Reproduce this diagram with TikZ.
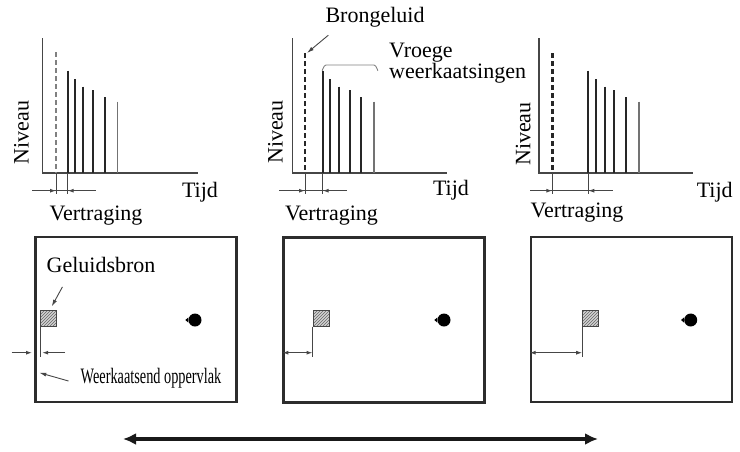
\documentclass[tikz,border=0pt]{standalone}
\usepackage{fontspec}
\usepackage{graphicx}
\setmainfont{Liberation Serif}
\usetikzlibrary{arrows.meta, positioning, patterns}
\definecolor{axisgray}{RGB}{70,70,70}
\definecolor{wallgray}{RGB}{45,45,45}

\begin{document}
\begin{tikzpicture}[x=1pt, y=-1pt,
    font=\fontsize{22}{26}\selectfont,
    axis/.style={axisgray, line width=1.3pt},
    bar/.style={black!85, line width=2.3pt},
    lastbar/.style={black!55, line width=1.5pt},
    direct/.style={gray, line width=1.2pt, dash pattern=on 5pt off 3pt},
    directbold/.style={black!85, line width=2.4pt, dash pattern=on 5pt off 3pt},
    tick/.style={axisgray, line width=1pt},
    dim/.style={axisgray, line width=1pt},
    dimarr/.style={-{Latex[length=6pt,width=4pt]}, axisgray, line width=1pt},
    dimboth/.style={{Latex[length=6pt,width=4pt]}-{Latex[length=6pt,width=4pt]},
                    axisgray, line width=1pt},
    room/.style={rectangle, draw=wallgray, line width=2.6pt,
                 minimum width=201pt, minimum height=165pt},
    src/.style={rectangle, draw=axisgray, line width=1pt,
                preaction={fill=gray!35}, pattern=north east lines,
                pattern color=black!60, minimum size=16pt, inner sep=0pt},
    listener/.style={circle, fill=black, minimum size=13pt, inner sep=0pt},
    lbl/.style={inner sep=0pt},
    pointer/.style={-{Latex[length=7pt,width=4pt]}, axisgray, line width=0.9pt},
    big/.style={{Latex[length=13pt,width=12pt]}-{Latex[length=13pt,width=12pt]},
                black!90, line width=3.2pt}
]
    \useasboundingbox (0,0) rectangle (740,451);

    % graph 1
    \draw[axis] (42.7,38) -- (42.7,173) -- (198,173);
    \draw[direct] (56,52) -- (56,173);
    \foreach \x/\h in {67.7/70.7, 75/79, 83.3/86.7, 92.7/90, 105/97.3}
        \draw[bar] (\x,\h) -- (\x,173);
    \draw[lastbar] (117.3,101.7) -- (117.3,173);
    \draw[tick] (56,173) -- (56,194);
    \draw[tick] (67.7,173) -- (67.7,194);
    \draw[dim] (32,190.7) -- (96,190.7);
    \draw[dimarr] (43,190.7) -- (56,190.7);
    \draw[dimarr] (81,190.7) -- (67.7,190.7);
    \node[lbl, rotate=90] (niv1) at (21.5,132.5) {Niveau};
    \node[lbl] (tijd1) at (200,192) {Tijd};
    \node[lbl] (vert1) at (96,216) {Vertraging};

    % graph 2
    \draw[axis] (292.7,38) -- (292.7,173) -- (446.7,173);
    \draw[directbold] (305,53) -- (305,173);
    \foreach \x/\h in {322.7/70.7, 330/79, 339.3/86.7, 350/90, 360.7/97.3}
        \draw[bar] (\x,\h) -- (\x,173);
    \draw[lastbar] (374,101.7) -- (374,173);
    \draw[tick] (305,173) -- (305,194);
    \draw[tick] (322.7,173) -- (322.7,194);
    \draw[dim] (279,190.7) -- (347,190.7);
    \draw[dimarr] (292,190.7) -- (305,190.7);
    \draw[dimarr] (336,190.7) -- (322.7,190.7);
    \node[lbl, rotate=90] (niv2) at (275.5,132) {Niveau};
    \node[lbl] (tijd2) at (451,190) {Tijd};
    \node[lbl] (vert2) at (331.5,215.5) {Vertraging};
    \node[lbl] (bron) at (375,17) {Brongeluid};
    \coordinate (brontop) at (307,53);
    \draw[pointer] ([shift={(3,8)}]bron.south west) -- (brontop);
    \draw[gray, line width=0.9pt] (322,70) to[out=-90,in=180] (326,65)
        -- (374,65) to[out=0,in=-90] (378,70);
    \node[lbl, align=left, anchor=north west,
          font=\fontsize{22}{21}\selectfont] (vroeg) at (389,43)
        {Vroege\\weerkaatsingen};

    % graph 3
    \draw[axis] (539,38) -- (539,173) -- (693,173);
    \draw[directbold] (552.3,53) -- (552.3,173);
    \foreach \x/\h in {588.3/70.7, 596/79, 605/86.7, 614/90, 626/97.3}
        \draw[bar] (\x,\h) -- (\x,173);
    \draw[lastbar] (639,101.7) -- (639,173);
    \draw[tick] (552.3,173) -- (552.3,194);
    \draw[tick] (588.3,173) -- (588.3,194);
    \draw[dim] (530,190.7) -- (613,190.7);
    \draw[dimarr] (539,190.7) -- (552.3,190.7);
    \draw[dimarr] (602,190.7) -- (588.3,190.7);
    \node[lbl, rotate=90] (niv3) at (523.3,134) {Niveau};
    \node[lbl] (tijd3) at (714.7,192) {Tijd};
    \node[lbl] (vert3) at (577,213) {Vertraging};

    % rooms
    \node[room] (room1) at (135.8,319.3) {};
    \node[room] (room2) at (384.2,319.7) {};
    \node[room] (room3) at (631.5,319.5) {};
    \node[src] (src1) at (48.7,318) {};
    \node[src] (src2) at (321,318) {};
    \node[src] (src3) at (590.7,318) {};
    \node[listener] (lis1) at (195,320) {};
    \node[listener] (lis2) at (444,320) {};
    \node[listener] (lis3) at (690.7,320) {};
    \foreach \i in {1,2,3}
        \fill ([xshift=-3pt]lis\i.west) -- ([yshift=2.5pt]lis\i.west)
            -- ([yshift=-2.5pt]lis\i.west) -- cycle;

    \coordinate (d1) at (src1.south west |- 0,352.7);
    \coordinate (d2) at (src2.south west |- 0,352.7);
    \coordinate (d3) at (src3.south west |- 0,352.7);
    \foreach \i in {1,2,3}
        \draw[tick] (src\i.south west) -- ([yshift=-4pt]d\i);
    \draw[dimarr] (11.7,352.7) -- ([xshift=-2pt]room1.west |- d1);
    \draw[dimarr] ([xshift=25pt]d1) -- ([xshift=2pt]d1);
    \draw[dimboth] (room2.west |- d2) -- (d2);
    \draw[dimboth] (room3.west |- d3) -- (d3);

    \node[lbl] (geluid) at (101,265) {Geluidsbron};
    \draw[pointer] ([shift={(16,14)}]geluid.south west) -- ([shift={(3,-3)}]src1.north);
    \node[lbl] (weer) at (151,378)
        {\scalebox{0.65}[1]{Weerkaatsend oppervlak}};
    \coordinate (wallpt) at (39.3,372.7);
    \draw[pointer] ([shift={(-12,3)}]weer.west) -- (wallpt);

    \coordinate (la) at (123,439);
    \coordinate (ra) at (598,439);
    \draw[big] (la) -- (ra);
\end{tikzpicture}
\end{document}
